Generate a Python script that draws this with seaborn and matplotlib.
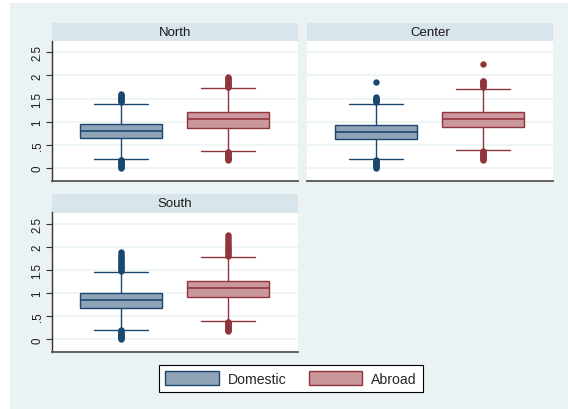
import matplotlib
matplotlib.use("Agg")
import matplotlib.pyplot as plt
from matplotlib.patches import Patch, Rectangle
import pandas as pd
import seaborn as sns

# ---- data -------------------------------------------------------------
regions = ["North", "Center", "South"]
origins = ["Domestic", "Abroad"]

# box summaries per region, one value per origin (Domestic, Abroad)
lower_adjacent = {"North": [0.20, 0.37], "Center": [0.195, 0.39], "South": [0.21, 0.40]}
quartile_1 = {"North": [0.645, 0.875], "Center": [0.64, 0.885], "South": [0.675, 0.91]}
medians = {"North": [0.795, 1.055], "Center": [0.79, 1.07], "South": [0.84, 1.105]}
quartile_3 = {"North": [0.945, 1.215], "Center": [0.94, 1.22], "South": [0.99, 1.26]}
upper_adjacent = {"North": [1.39, 1.72], "Center": [1.385, 1.715], "South": [1.45, 1.78]}

# values outside the adjacent values
low_outliers = {
    ("North", "Domestic"): [0.01, 0.03, 0.05, 0.07, 0.09, 0.11, 0.13, 0.15, 0.17, 0.18],
    ("North", "Abroad"): [0.17, 0.19, 0.21, 0.23, 0.25, 0.27, 0.29, 0.31, 0.33, 0.35, 0.36],
    ("Center", "Domestic"): [0.0, 0.02, 0.04, 0.06, 0.08, 0.10, 0.12, 0.14, 0.16, 0.18],
    ("Center", "Abroad"): [0.17, 0.19, 0.21, 0.23, 0.25, 0.27, 0.29, 0.31, 0.33, 0.35, 0.37],
    ("South", "Domestic"): [0.0, 0.02, 0.04, 0.06, 0.08, 0.10, 0.12, 0.14, 0.16, 0.18, 0.19],
    ("South", "Abroad"): [0.17, 0.19, 0.21, 0.23, 0.25, 0.27, 0.29, 0.31, 0.33, 0.35, 0.37, 0.38],
}
high_outliers = {
    ("North", "Domestic"): [1.42, 1.44, 1.46, 1.48, 1.50, 1.52, 1.54, 1.56, 1.58, 1.60],
    ("North", "Abroad"): [1.74, 1.76, 1.78, 1.80, 1.82, 1.84, 1.86, 1.88, 1.90, 1.92, 1.94, 1.96],
    ("Center", "Domestic"): [1.42, 1.44, 1.46, 1.48, 1.50, 1.52, 1.53, 1.85],
    ("Center", "Abroad"): [1.75, 1.77, 1.79, 1.81, 1.83, 1.85, 1.87, 1.88, 2.235],
    ("South", "Domestic"): [1.47, 1.50, 1.53, 1.56, 1.59, 1.62, 1.65, 1.68, 1.71, 1.74,
                            1.77, 1.80, 1.84, 1.88],
    ("South", "Abroad"): [1.80, 1.83, 1.86, 1.89, 1.92, 1.95, 1.98, 2.01, 2.04, 2.08,
                          2.12, 2.16, 2.20, 2.26],
}

# expand each summary into an observation table (bulk weight at the quartiles)
BULK = 60
rows = []
for r in regions:
    for i, o in enumerate(origins):
        vals = (low_outliers[(r, o)] + [lower_adjacent[r][i]]
                + [quartile_1[r][i]] * BULK + [medians[r][i]] * BULK
                + [quartile_3[r][i]] * BULK
                + [upper_adjacent[r][i]] + high_outliers[(r, o)])
        rows += [(r, o, v) for v in vals]
df = pd.DataFrame(rows, columns=["region", "origin", "value"])

# ---- style ------------------------------------------------------------
BG = "#EAF2F3"
STRIP = "#D8E5EA"
FILLS = ["#90A4B8", "#C9979C"]
EDGES = ["#1A476F", "#90353B"]
W, H = 568, 410

sns.set_theme(style="white")
plt.rcParams["font.family"] = ["Liberation Sans", "DejaVu Sans"]

fig = plt.figure(figsize=(W / 100, H / 100), dpi=100)
fig.patch.set_facecolor("white")
fig.patches.append(Rectangle((10 / W, 0), 1, (H - 4) / H, transform=fig.transFigure,
                             facecolor=BG, edgecolor="none", zorder=-10))


def px_rect(x0, y0, x1, y1):
    return [x0 / W, 1 - y1 / H, (x1 - x0) / W, (y1 - y0) / H]


layout = {
    "North": ((52, 42, 298, 182), (52, 23.5, 298, 42), True),
    "Center": ((307, 42, 553, 182), (307, 23.5, 553, 42), False),
    "South": ((52, 213.5, 298, 353), (52, 195, 298, 213.5), True),
}

for r in regions:
    plot_box, strip_box, show_y = layout[r]

    sax = fig.add_axes(px_rect(*strip_box))
    sax.set_facecolor(STRIP)
    for s in sax.spines.values():
        s.set_visible(False)
    sax.set_xticks([])
    sax.set_yticks([])
    sax.text(0.5, 0.5, r, ha="center", va="center", fontsize=9.5, color="#1a1a1a",
             transform=sax.transAxes)

    ax = fig.add_axes(px_rect(*plot_box))
    ax.set_facecolor("white")
    sub = df[df["region"] == r]
    for i, o in enumerate(origins):
        sns.boxplot(
            data=sub[sub["origin"] == o], x="origin", y="value", order=origins,
            color=FILLS[i], linecolor=EDGES[i], saturation=1, width=0.77,
            linewidth=1.0, fliersize=4.6, capwidths=0.51,
            flierprops=dict(marker="o", markerfacecolor=EDGES[i],
                            markeredgecolor=EDGES[i], markeredgewidth=0),
            medianprops=dict(color=EDGES[i], linewidth=1.2),
            ax=ax,
        )

    ax.set_xlim(-0.645, 1.654)
    ax.set_ylim(-0.275, 2.74)
    ax.set_yticks([0, 0.5, 1, 1.5, 2, 2.5])
    ax.set_xticks([])
    ax.set_xlabel("")
    ax.set_ylabel("")
    ax.yaxis.grid(True, color=BG, linewidth=1.1)
    ax.set_axisbelow(True)
    for side in ("top", "right"):
        ax.spines[side].set_visible(False)
    ax.spines["bottom"].set_color("#555555")
    ax.spines["bottom"].set_linewidth(1.3)
    if show_y:
        ax.set_yticklabels(["0", ".5", "1", "1.5", "2", "2.5"])
        ax.spines["left"].set_color("#333333")
        ax.spines["left"].set_linewidth(1.0)
        ax.tick_params(axis="y", left=True, length=4, width=0.8, color="#333333",
                       pad=2, labelsize=8.3, labelcolor="#1a1a1a")
        for lab in ax.get_yticklabels():
            lab.set_rotation(90)
            lab.set_va("center")
    else:
        ax.spines["left"].set_visible(False)
        ax.tick_params(axis="y", left=False, labelleft=False)

handles = [Patch(facecolor=FILLS[i], edgecolor=EDGES[i], linewidth=1.0)
           for i in range(len(origins))]
leg = fig.legend(handles, origins, ncol=2, loc="center",
                 bbox_to_anchor=(291 / W, 1 - 379.5 / H), frameon=True, fancybox=False,
                 edgecolor="black", framealpha=1, fontsize=10.1, handlelength=3.8,
                 handleheight=1.1, handletextpad=0.65, columnspacing=1.6,
                 borderpad=0.45, borderaxespad=0)
leg.get_frame().set_linewidth(0.8)
leg.get_frame().set_facecolor("white")

fig.savefig("out.png", dpi=100)
